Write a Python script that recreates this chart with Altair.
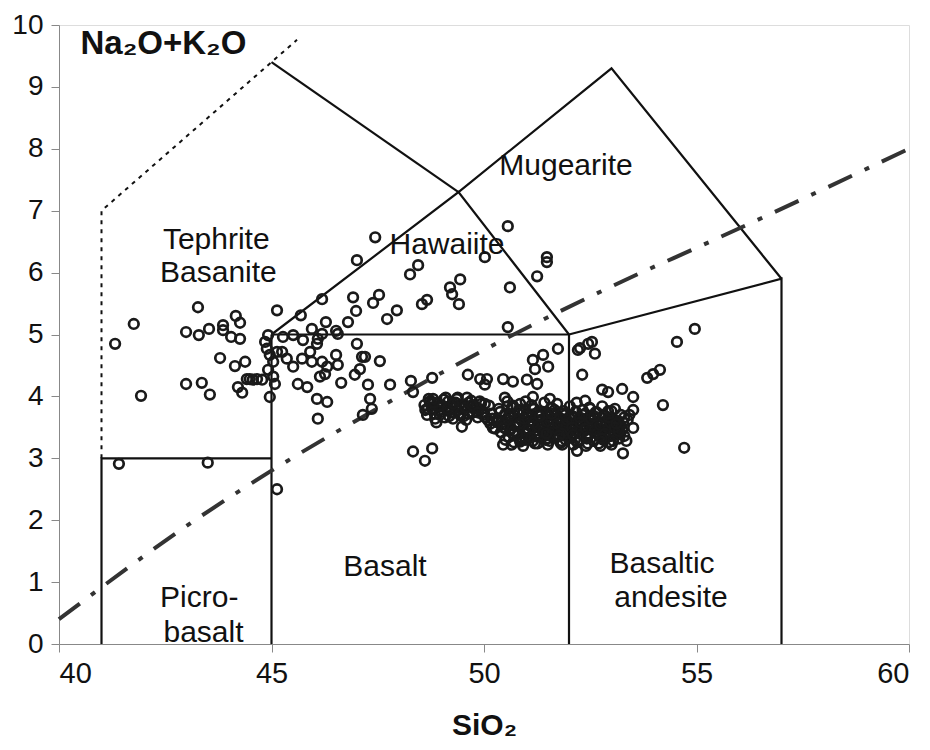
import altair as alt
import pandas as pd

# ---- TAS field boundaries (SiO2, Na2O+K2O) ----
solid_segments = {
    "picro": [(41, 0), (41, 3), (45, 3)],
    "v45": [(45, 0), (45, 5)],
    "basalt_top": [(45, 5), (52, 5)],
    "v52": [(52, 0), (52, 5)],
    "bas_and": [(52, 5), (57, 5.9), (57, 0)],
    "hawaiite": [(45, 5), (49.4, 7.3), (52, 5)],
    "mugearite": [(49.4, 7.3), (53, 9.3), (57, 5.9)],
    "tephrite_top": [(45, 9.4), (49.4, 7.3)],
}
dotted_x = [41, 41, 45.6]
dotted_y = [3, 7, 9.76]
# alkaline / subalkaline divide (Irvine & Baragar)
divide_x = [40, 43.2, 45, 48, 50, 53.7, 55, 60]
divide_y = [0.4, 2.0, 2.8, 4.0, 4.75, 6.0, 6.4, 8.0]

# ---- samples ----
si = [
    41.32, 41.76, 41.93, 41.41, 43.50, 42.99, 43.27, 43.29, 43.53, 43.86, 43.86, 44.16, 44.26, 44.05, 44.26,
    43.79, 44.14, 44.38, 42.99, 43.36, 43.55, 44.21, 44.31, 44.42, 44.56, 44.78, 44.96, 45.13,
    44.92, 44.85, 44.89, 44.96, 45.04, 44.92, 45.04, 45.13, 45.25, 45.36, 45.51, 45.72, 45.91, 45.95, 46.07,
    46.19, 46.31, 46.26, 46.14, 44.66, 44.49, 45.27, 45.51, 45.95, 45.74, 46.09, 45.08,
    45.13, 45.69, 46.28, 46.19, 46.52, 46.56, 46.19, 45.62, 45.84,
    47.01, 47.13, 47.20, 47.55, 46.56, 46.52, 46.64, 46.96, 47.08, 47.27, 47.32, 47.36, 47.15, 46.09, 46.07,
    46.31, 47.79, 48.28, 48.33, 48.78, 49.62, 49.91, 50.07, 50.02, 50.45, 50.68, 51.01, 51.25, 50.56,
    51.15, 51.39, 51.20, 51.51, 51.74, 50.49, 51.55, 51.15, 48.33, 48.78, 48.61, 50.45, 52.19,
    47.44, 47.01, 48.26, 48.45, 50.02, 51.48, 51.48, 51.25, 49.44, 49.20, 49.25, 49.41, 50.61, 47.53, 47.39,
    46.92, 46.99, 46.80, 47.95, 47.72, 48.54, 48.66, 50.56,
    52.45, 52.21, 52.54, 52.26, 52.61, 52.31, 52.78, 52.92, 53.25, 53.51, 53.51, 53.51, 53.27, 52.38,
    54.54, 54.96, 53.84, 53.98, 54.14, 54.21, 54.71, 50.21, 50.85, 50.09, 50.26,
    # dense band 1
    48.60, 48.66, 48.72, 48.78, 48.85, 48.92, 49.00, 49.05, 49.12, 49.18, 49.27, 49.33, 49.40, 49.48, 49.55,
    49.62, 49.70, 49.77, 49.85, 49.93, 50.00, 48.70, 48.88, 49.02, 49.22, 49.38, 49.58, 49.80, 49.98, 50.15,
    48.95, 49.45, 49.68,
    48.62, 48.74, 48.84, 48.98, 49.08, 49.16, 49.30, 49.42, 49.52, 49.64, 49.74, 49.88, 50.04, 50.18,
    48.80, 49.10, 49.36, 49.60, 49.90, 50.12,
    48.68, 48.82, 48.96, 49.14, 49.28, 49.44, 49.56, 49.72, 49.86, 50.02, 50.20, 50.32,
    # dense band 2
    50.30, 50.38, 50.45, 50.55, 50.62, 50.70, 50.78, 50.85, 50.95, 51.02, 51.10, 51.18, 51.25, 51.33, 51.40,
    51.48, 51.55, 51.62, 51.70, 51.78, 51.85, 51.92, 52.00, 52.08, 52.15, 52.22, 52.30, 52.38, 52.45, 52.52,
    52.60, 52.68, 52.75, 52.82, 52.90, 52.98, 53.05, 53.12, 53.20, 53.30,
    50.40, 50.50, 50.60, 50.72, 50.80, 50.90, 51.00, 51.08, 51.15, 51.22, 51.30, 51.38, 51.45, 51.52, 51.60,
    51.68, 51.75, 51.82, 51.90, 51.98, 52.05, 52.12, 52.20, 52.28, 52.35, 52.42, 52.50, 52.58, 52.65, 52.72,
    52.80, 52.88, 52.95, 53.02, 53.10, 53.18, 53.25,
    50.55, 50.68, 50.82, 50.98, 51.12, 51.28, 51.42, 51.58, 51.72, 51.88, 52.02, 52.18, 52.32, 52.48, 52.62,
    52.78, 52.92, 53.08, 53.22, 53.38,
    50.65, 50.92, 51.20, 51.50, 51.80, 52.10, 52.40, 52.70, 53.00, 53.35,
    50.42, 50.51, 50.60, 50.69, 50.77, 50.87, 50.96, 51.04, 51.13, 51.21, 51.29, 51.37, 51.46, 51.54, 51.63,
    51.71, 51.80, 51.88, 51.96, 52.04, 52.13, 52.21, 52.29, 52.37, 52.46, 52.54, 52.63, 52.71, 52.79, 52.87,
    52.96, 53.04, 53.13, 53.21,
    50.58, 50.74, 50.90, 51.06, 51.24, 51.36, 51.50, 51.66, 51.76, 51.94, 52.06, 52.24, 52.36, 52.54, 52.66,
    52.84, 52.98, 53.14, 53.28, 53.42,
    50.35, 50.50, 50.66, 50.84, 51.00, 51.16, 51.34, 51.50, 51.66, 51.84, 52.00, 52.16, 52.34, 52.50, 52.66,
    52.84, 53.00, 53.16,
    50.70, 50.98, 51.26, 51.54, 51.84, 52.14, 52.44, 52.74, 53.04, 53.30,
    50.46, 50.57, 50.71, 50.83, 50.94, 51.05, 51.17, 51.27, 51.39, 51.49, 51.61, 51.73, 51.83, 51.95, 52.07,
    52.18, 52.27, 52.39, 52.51, 52.61, 52.73, 52.85, 52.97, 53.07, 53.17,
    50.62, 50.79, 50.93, 51.11, 51.31, 51.47, 51.59, 51.77, 51.91, 52.09, 52.25, 52.43, 52.59, 52.77, 52.93,
    53.11,
]
alk = [
    4.85, 5.17, 4.01, 2.91, 2.93, 5.04, 5.44, 4.99, 5.09, 5.15, 5.07, 5.30, 5.19, 4.96, 4.93,
    4.62, 4.49, 4.56, 4.20, 4.22, 4.03, 4.15, 4.06, 4.28, 4.27, 4.27, 3.99, 2.50,
    4.99, 4.88, 4.77, 4.67, 4.56, 4.43, 4.32, 4.72, 4.72, 4.61, 4.48, 4.61, 4.72, 4.56, 4.85,
    4.56, 4.48, 4.36, 4.32, 4.28, 4.28, 4.96, 4.99, 5.09, 4.91, 4.93, 4.20,
    5.39, 5.31, 5.20, 5.01, 5.06, 5.01, 5.57, 4.20, 4.15,
    4.85, 4.64, 4.64, 4.57, 4.51, 4.67, 4.22, 4.35, 4.44, 4.19, 3.96, 3.80, 3.70, 3.64, 3.96,
    3.91, 4.19, 4.25, 4.07, 4.30, 4.35, 4.28, 4.28, 4.19, 4.28, 4.24, 4.27, 4.20, 5.12,
    4.59, 4.67, 4.44, 4.48, 4.77, 3.98, 3.96, 3.99, 3.11, 3.16, 2.96, 3.22, 3.12,
    6.57, 6.20, 5.97, 6.12, 6.25, 6.25, 6.17, 5.94, 5.89, 5.76, 5.65, 5.49, 5.76, 5.64, 5.51,
    5.60, 5.38, 5.20, 5.39, 5.25, 5.49, 5.56, 6.75,
    4.85, 4.75, 4.88, 4.78, 4.69, 4.35, 4.11, 4.07, 4.12, 3.99, 3.78, 3.49, 3.08, 3.93,
    4.88, 5.09, 4.30, 4.36, 4.43, 3.86, 3.17, 3.49, 3.27, 3.62, 3.48,
    # dense band 1
    3.86, 3.70, 3.92, 3.80, 3.64, 3.88, 3.75, 3.95, 3.82, 3.68, 3.64, 3.90, 3.78, 3.51, 3.85,
    3.72, 3.93, 3.80, 3.66, 3.88, 3.74, 3.96, 3.58, 3.85, 3.74, 3.98, 3.62, 3.84, 3.70, 3.56,
    3.77, 3.69, 3.83,
    3.78, 3.88, 3.72, 3.84, 3.66, 3.92, 3.74, 3.86, 3.68, 3.90, 3.74, 3.80, 3.66, 3.72,
    3.96, 3.98, 3.96, 3.98, 3.92, 3.85,
    3.80, 3.90, 3.70, 3.80, 3.88, 3.72, 3.82, 3.86, 3.74, 3.88, 3.64, 3.58,
    # dense band 2
    3.62, 3.75, 3.55, 3.84, 3.46, 3.70, 3.58, 3.88, 3.40, 3.66, 3.52, 3.80, 3.35, 3.62, 3.48,
    3.74, 3.38, 3.58, 3.70, 3.44, 3.62, 3.30, 3.52, 3.68, 3.40, 3.58, 3.46, 3.72, 3.36, 3.55,
    3.64, 3.42, 3.58, 3.70, 3.48, 3.36, 3.62, 3.50, 3.40, 3.66,
    3.42, 3.30, 3.68, 3.52, 3.72, 3.32, 3.48, 3.60, 3.28, 3.45, 3.70, 3.52, 3.30, 3.42, 3.64,
    3.34, 3.50, 3.28, 3.46, 3.58, 3.35, 3.50, 3.26, 3.62, 3.44, 3.32, 3.54, 3.28, 3.48, 3.38,
    3.30, 3.56, 3.26, 3.44, 3.58, 3.32, 3.46,
    3.92, 3.85, 3.78, 3.92, 3.86, 3.74, 3.90, 3.82, 3.88, 3.76, 3.84, 3.90, 3.78, 3.82, 3.74,
    3.84, 3.76, 3.80, 3.70, 3.62,
    3.22, 3.20, 3.24, 3.22, 3.25, 3.22, 3.20, 3.24, 3.22, 3.28,
    3.58, 3.48, 3.66, 3.40, 3.56, 3.62, 3.44, 3.70, 3.52, 3.38, 3.60, 3.46, 3.68, 3.42, 3.56,
    3.36, 3.64, 3.48, 3.58, 3.34, 3.66, 3.44, 3.54, 3.62, 3.40, 3.50, 3.58, 3.36, 3.46, 3.60,
    3.42, 3.54, 3.38, 3.52,
    3.34, 3.56, 3.30, 3.60, 3.40, 3.54, 3.32, 3.50, 3.66, 3.40, 3.56, 3.30, 3.48, 3.62, 3.40,
    3.52, 3.64, 3.44, 3.58, 3.70,
    3.80, 3.72, 3.82, 3.76, 3.70, 3.80, 3.74, 3.68, 3.78, 3.72, 3.66, 3.76, 3.70, 3.80, 3.74,
    3.68, 3.76, 3.60,
    3.26, 3.30, 3.24, 3.28, 3.22, 3.30, 3.24, 3.20, 3.28, 3.36,
    3.50, 3.62, 3.44, 3.56, 3.64, 3.46, 3.58, 3.52, 3.42, 3.60, 3.48, 3.56, 3.40, 3.62, 3.50,
    3.44, 3.58, 3.48, 3.64, 3.46, 3.54, 3.40, 3.58, 3.50, 3.44,
    3.70, 3.38, 3.74, 3.34, 3.68, 3.40, 3.72, 3.36, 3.70, 3.38, 3.66, 3.34, 3.68, 3.32, 3.66,
    3.56,
]

# ---- field names ----
label_text = ["Mugearite", "Hawaiite", "Tephrite", "Basanite", "Picro-", "basalt",
              "Basalt", "Basaltic", "andesite"]
label_x = [51.93, 49.13, 43.70, 43.75, 43.30, 43.40, 47.67, 54.19, 54.40]
label_y = [7.73, 6.44, 6.52, 5.99, 0.74, 0.18, 1.24, 1.29, 0.74]

FONT = "Liberation Sans"

seg_rows = []
for name, pts in solid_segments.items():
    for i, (x, y) in enumerate(pts):
        seg_rows.append({"seg": name, "i": i, "x": x, "y": y})
seg_df = pd.DataFrame(seg_rows)
dot_df = pd.DataFrame({"x": dotted_x, "y": dotted_y, "i": range(len(dotted_x))})
div_df = pd.DataFrame({"x": divide_x, "y": divide_y, "i": range(len(divide_x))})
pts_df = pd.DataFrame({"x": si, "y": alk})
lab_df = pd.DataFrame({"t": label_text, "x": label_x, "y": label_y})

xs = alt.Scale(domain=[40, 60], nice=False, zero=False)
ys = alt.Scale(domain=[0, 10], nice=False, zero=False)

xax = alt.Axis(values=[40, 45, 50, 55, 60], title="SiO₂", grid=False, format="d",
               tickSize=8, labelFontSize=29, labelPadding=7, labelFont=FONT,
               titleFont=FONT, titleFontSize=30, titleFontWeight="bold",
               titleY=90, titleBaseline="alphabetic", titleX=425,
               domainColor="#888", tickColor="#888", labelColor="#111", titleColor="#111")
yax = alt.Axis(values=list(range(0, 11)), title="Na₂O+K₂O", grid=False, format="d",
               tickSize=8, labelFontSize=28, labelPadding=8, labelFont=FONT,
               titleFont=FONT, titleFontSize=33, titleFontWeight="bold",
               titleAngle=0, titleX=21, titleY=28, titleAlign="left",
               titleBaseline="alphabetic",
               domainColor="#888", tickColor="#888", labelColor="#111", titleColor="#111")

base_x = alt.X("x:Q", scale=xs, axis=xax)
base_y = alt.Y("y:Q", scale=ys, axis=yax)

solid = alt.Chart(seg_df).mark_line(color="#111", strokeWidth=2.2).encode(
    x=base_x, y=base_y, detail="seg:N", order="i:Q")
dotted = alt.Chart(dot_df).mark_line(color="#111", strokeWidth=2, strokeDash=[4, 5]).encode(
    x="x:Q", y="y:Q", order="i:Q")
divide = alt.Chart(div_df).mark_line(color="#333", strokeWidth=4,
                                     strokeDash=[26, 14, 5, 14], interpolate="monotone").encode(
    x="x:Q", y="y:Q", order="i:Q")
points = alt.Chart(pts_df).mark_point(shape="circle", filled=False, size=92,
                                      strokeWidth=2.7, color="#1a1a1a", opacity=1).encode(
    x="x:Q", y="y:Q")
labels = alt.Chart(lab_df).mark_text(font=FONT, fontSize=30, color="#111",
                                     align="center", baseline="middle").encode(
    x="x:Q", y="y:Q", text="t:N")

chart = alt.layer(solid, dotted, divide, points, labels).properties(
    width=850, height=619,
    autosize=alt.AutoSizeParams(type="none"),
    padding={"left": 51, "top": 17, "right": 13, "bottom": 98},
).configure_view(stroke=None).configure(background="white")

chart.save("out.html", embed_options={"renderer": "svg", "actions": False})
